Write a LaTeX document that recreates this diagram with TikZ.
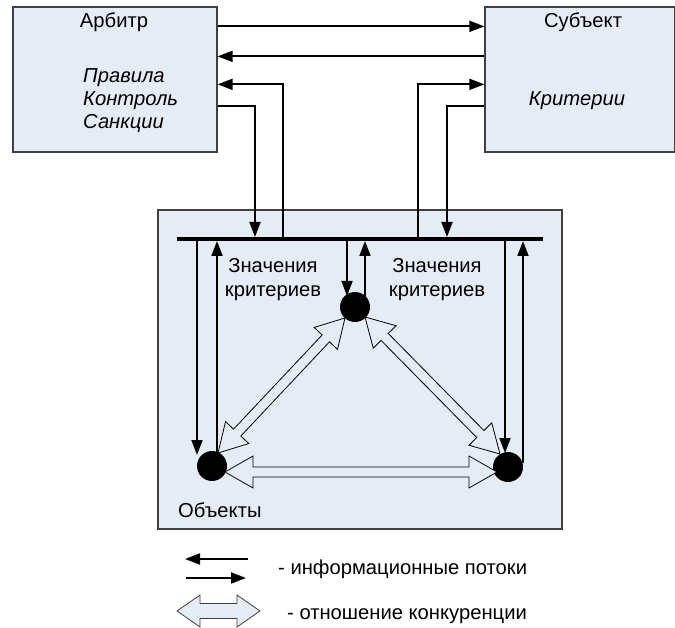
\documentclass[tikz,border=0pt]{standalone}
\usepackage{fontspec}
\setmainfont{Liberation Sans}
\usetikzlibrary{arrows.meta,calc}
\definecolor{boxfill}{RGB}{230,236,246}
\definecolor{boxline}{RGB}{64,64,64}
\newcommand\hollowarr[6][]{%
  \draw[#1] (#2) -- ($(#2)!#4!(#3)!#5!90:(#3)$) -- ($(#2)!#4!(#3)!#6!90:(#3)$)
   -- ($(#3)!#4!(#2)!#6!-90:(#2)$) -- ($(#3)!#4!(#2)!#5!-90:(#2)$) -- (#3)
   -- ($(#3)!#4!(#2)!#5!90:(#2)$) -- ($(#3)!#4!(#2)!#6!90:(#2)$)
   -- ($(#2)!#4!(#3)!#6!-90:(#3)$) -- ($(#2)!#4!(#3)!#5!-90:(#3)$) -- cycle;}
\begin{document}
\begin{tikzpicture}[x=1pt,y=-1pt,
  box/.style={draw=boxline,fill=boxfill,line width=1.3pt,rectangle,inner sep=0pt},
  lbl/.style={font=\fontsize{20.2}{24}\selectfont,inner sep=0pt},
  ilbl/.style={font=\fontsize{20.2}{24}\selectfont\itshape,inner sep=0pt},
  flow/.style={line width=1.8pt,-{Triangle[length=15pt,width=11pt]}},
  dot/.style={circle,fill=black,minimum size=30pt,inner sep=0pt},
  hol/.style={draw=black,fill=boxfill,line width=0.8pt,line join=miter},
  holleg/.style={draw=boxline,fill=boxfill,line width=0.8pt,line join=miter}]
\useasboundingbox (0,0) rectangle (675,628);
% boxes
\node[box,minimum width=204pt,minimum height=145pt] (arb) at (115,79.5) {};
\node[box,minimum width=190pt,minimum height=145pt] (sub) at (580,79.5) {};
\node[box,minimum width=404pt,minimum height=319pt] (obj) at (360,369.5) {};
% texts
\node[lbl,anchor=base] (tA) at (114,28) {Арбитр};
\node[ilbl,anchor=base west] (t1) at (83,83) {Правила};
\node[ilbl,anchor=base west] (t2) at (83,106) {Контроль};
\node[ilbl,anchor=base west] (t3) at (83,129) {Санкции};
\node[lbl,anchor=base] (tS) at (583,28) {Субъект};
\node[ilbl,anchor=base] (tK) at (577,106) {Критерии};
\node[lbl,anchor=base] (z1a) at (273,273) {Значения};
\node[lbl,anchor=base] (z1b) at (273,297) {критериев};
\node[lbl,anchor=base] (z2a) at (437,273) {Значения};
\node[lbl,anchor=base] (z2b) at (437,297) {критериев};
\node[lbl,anchor=base west] (tO) at (178,517) {Объекты};
\node[lbl,anchor=base west] (leg1) at (278,574) {- информационные потоки};
\node[lbl,anchor=base west] (leg2) at (287,619) {- отношение конкуренции};
% arrows between top boxes
\draw[flow] ([yshift=-20pt]arb.north east) -- ([yshift=-20pt]sub.north west);
\draw[flow] ([yshift=-50pt]sub.north west) -- ([yshift=-50pt]arb.north east);
% bus
\coordinate (busL) at (177,239);
\coordinate (busR) at (543,239);
\draw[line width=3.5pt] (busL) -- (busR);
\coordinate (bA1) at (283,239);
\coordinate (bA2) at (255,237);
\coordinate (bS1) at (418,239);
\coordinate (bS2) at (447,237);
\draw[flow] (bA1) |- ([yshift=-78pt]arb.north east);
\draw[flow] ([yshift=-100pt]arb.north east) -| (bA2);
\draw[flow] (bS1) |- ([yshift=-78pt]sub.north west);
\draw[flow] ([yshift=-100pt]sub.north west) -| (bS2);
% circles
\node[dot] (tc) at (355,307) {};
\node[dot] (lc) at (212,466) {};
\node[dot] (rc) at (508,467) {};
% verticals
\coordinate (bL1) at (197,241);
\coordinate (bL2) at (217,241);
\coordinate (bT1) at (347,241);
\coordinate (bT2) at (365,241);
\coordinate (bR1) at (505,241);
\coordinate (bR2) at (523,241);
\draw[flow] (bL1) -- ($(lc)+(-15,-11)$);
\draw[flow] ($(lc)+(5,-13)$) -- (bL2);
\draw[flow] (bT1) -- ($(tc)+(-8,-11)$);
\draw[flow] ($(tc)+(10,-10)$) -- (bT2);
\draw[flow] (bR1) -- ($(rc)+(-3,-14)$);
\draw[flow] ($(rc)+(15,-4)$) -- (bR2);
% competition arrows
\coordinate (h1) at (225,472);
\coordinate (h2) at (497,472);
\coordinate (d1) at (345,318);
\coordinate (d2) at (218,453);
\coordinate (e1) at (365,317);
\coordinate (e2) at (500,454);
\hollowarr[hol]{h1}{h2}{28pt}{16pt}{5pt}
\hollowarr[hol]{d1}{d2}{28pt}{16pt}{5pt}
\hollowarr[hol]{e1}{e2}{28pt}{16pt}{5pt}
% legend
\coordinate (l1a) at (248,559);
\coordinate (l1b) at (185,559);
\coordinate (l2a) at (186,578);
\coordinate (l2b) at (246,578);
\draw[flow] (l1a) -- (l1b);
\draw[flow] (l2a) -- (l2b);
\coordinate (l3a) at (177,611);
\coordinate (l3b) at (260,611);
\hollowarr[holleg]{l3a}{l3b}{23pt}{16pt}{7.5pt}
\end{tikzpicture}
\end{document}
